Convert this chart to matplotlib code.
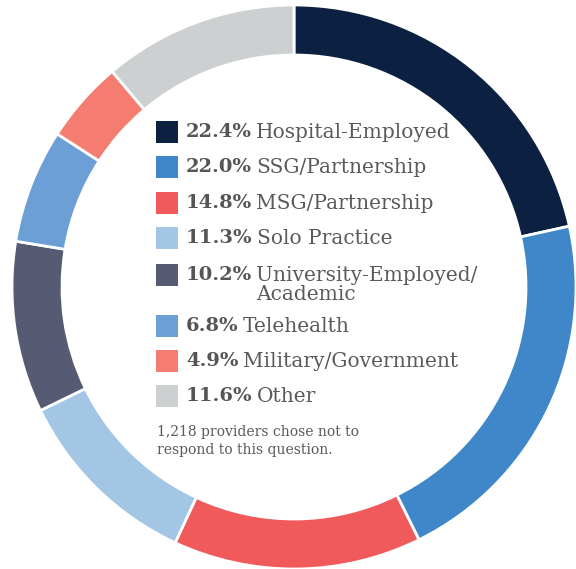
import matplotlib
matplotlib.use("Agg")
import matplotlib.pyplot as plt
from matplotlib.patches import Rectangle

shares = [22.4, 22.0, 14.8, 11.3, 10.2, 6.8, 4.9, 11.6]
labels = ["Hospital-Employed", "SSG/Partnership", "MSG/Partnership", "Solo Practice",
          "University-Employed/\nAcademic", "Telehealth", "Military/Government", "Other"]
colors = ["#0c2141", "#3f87c9", "#f05a5b", "#a4c6e5", "#575a73", "#6b9fd5", "#f47c70", "#cdd0d1"]
note = "1,218 providers chose not to\nrespond to this question."

W, H = 576, 569
TXT = "#5a5a5a"
FONT = "DejaVu Serif"

fig = plt.figure(figsize=(W / 100, H / 100), dpi=100)
ax = fig.add_axes([0, 0, 1, 1])

# donut ring, clockwise from 12 o'clock (y axis is flipped, so counterclock=True goes clockwise)
cx, cy, r = 294, 287, 282
ax.pie(shares, colors=colors, startangle=-90, counterclock=True, center=(cx, cy), radius=r,
       wedgeprops=dict(width=50, edgecolor="white", linewidth=2), frame=True)
ax.set_xlim(0, W)
ax.set_ylim(H, 0)
ax.set_aspect("equal")
ax.axis("off")

# legend in the hole
rows_y = [132, 167, 203, 238, 275, 326, 361, 396]
fig.canvas.draw()
rend = fig.canvas.get_renderer()
inv = ax.transData.inverted()
for y, v, lab, c in zip(rows_y, shares, labels, colors):
    ax.add_patch(Rectangle((156, y - 11), 22, 22, facecolor=c, edgecolor="none"))
    t = ax.text(186, y, f"{v:.1f}%", fontsize=14, fontweight="bold", color="#555555",
                family=FONT, va="center", ha="left")
    bb = t.get_window_extent(renderer=rend)
    x_end = inv.transform((bb.x1, bb.y0))[0]
    parts = lab.split("\n")
    ax.text(x_end + 4, y, parts[0], fontsize=14.5, color=TXT, family=FONT,
            va="center", ha="left")
    if len(parts) > 1:
        ax.text(x_end + 4, y + 19, parts[1], fontsize=14.5, color=TXT, family=FONT,
                va="center", ha="left")

ax.text(157, 441, note, fontsize=10, color=TXT, family=FONT, va="center", ha="left",
        linespacing=1.3)

fig.savefig("out.png", dpi=100)
